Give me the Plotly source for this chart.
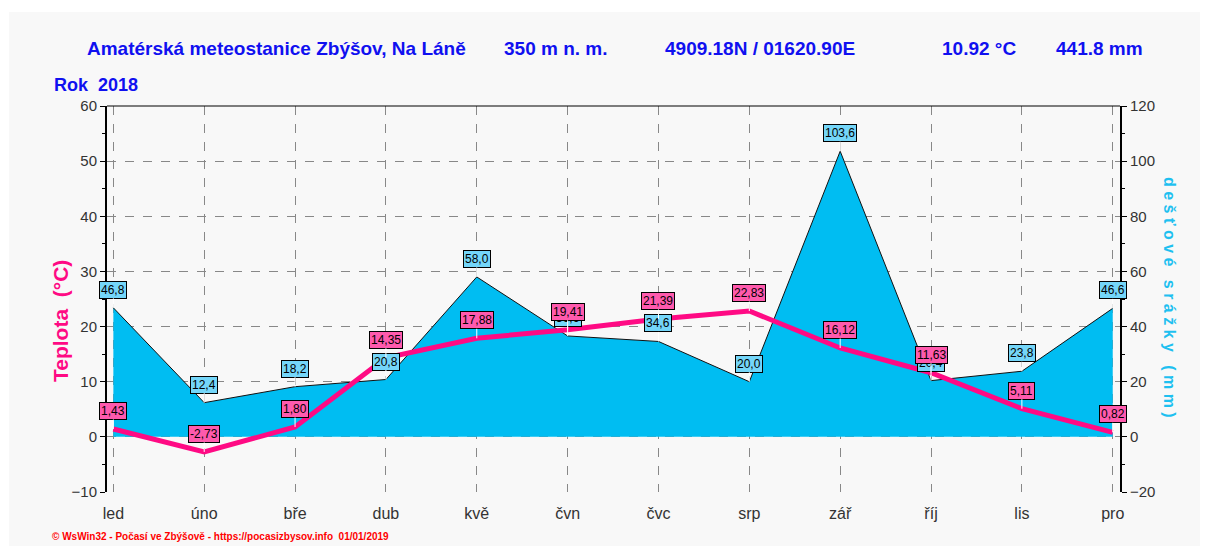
import plotly.graph_objects as go

months = ["led", "úno", "bře", "dub", "kvě", "čvn", "čvc", "srp", "zář", "říj", "lis", "pro"]
temperature = [1.43, -2.73, 1.80, 14.35, 17.88, 19.41, 21.39, 22.83, 16.12, 11.63, 5.11, 0.82]
precipitation = [46.8, 12.4, 18.2, 20.8, 58.0, 36.6, 34.6, 20.0, 103.6, 20.4, 23.8, 46.6]

FONT = "Liberation Sans, Arial, sans-serif"
BLUE_TXT = "#1010f0"
PINK = "#ff0a84"
SKY = "#00bdf2"
BG = "#f8f8f8"

# page layout (page pixels; the page body has an 8px margin)
OFF = 8
W, H = 1209 - OFF, 556 - OFF
PL, PR, PT, PB = 107, 1120, 106, 492  # plot area in page pixels


def px(x):
    return (x - PL) / (PR - PL)


def py(y):
    return (PB - y) / (PB - PT)


xs = list(range(len(months)))

fig = go.Figure()

# precipitation on the base axis (right side), temperature on the overlay (left side)
fig.add_trace(go.Scatter(
    x=xs, y=precipitation, yaxis="y", mode="lines",
    line=dict(color="#111111", width=1),
    fill="tozeroy", fillcolor=SKY, hoverinfo="skip", showlegend=False,
))
fig.add_trace(go.Scatter(
    x=xs, y=temperature, yaxis="y2", mode="lines",
    line=dict(color=PINK, width=5), hoverinfo="skip", showlegend=False,
))


def fmt(v, d):
    return f"{v:.{d}f}".replace(".", ",")


annotations = []
for i, v in enumerate(precipitation):
    annotations.append(dict(
        x=i, y=v, xref="x", yref="y", text=fmt(v, 1),
        showarrow=True, arrowhead=0, arrowwidth=1, arrowcolor="white",
        ax=0, ay=-18, bgcolor="#74d6f9", bordercolor="#000000", borderwidth=1,
        borderpad=1, font=dict(family=FONT, size=12, color="#000000"),
    ))
for i, v in enumerate(temperature):
    annotations.append(dict(
        x=i, y=v, xref="x", yref="y2", text=fmt(v, 2),
        showarrow=True, arrowhead=0, arrowwidth=1, arrowcolor="white",
        ax=0, ay=-18, bgcolor="#ff5aad", bordercolor="#000000", borderwidth=1,
        borderpad=1, font=dict(family=FONT, size=12, color="#000000"),
    ))

header = [
    ("Amatérská meteostanice Zbýšov, Na Láně", 85),
    ("350 m n. m.", 502),
    ("4909.18N / 01620.90E", 663),
    ("10.92 °C", 940),
    ("441.8 mm", 1054),
]
for txt, hx in header:
    annotations.append(dict(
        text=f"<b>{txt}</b>", x=px(hx), y=py(49), xref="paper", yref="paper",
        xanchor="left", yanchor="middle", showarrow=False,
        font=dict(family=FONT, size=19, color=BLUE_TXT),
    ))
annotations.append(dict(
    text="<b>Rok  2018</b>", x=px(52), y=py(85), xref="paper", yref="paper",
    xanchor="left", yanchor="middle", showarrow=False,
    font=dict(family=FONT, size=18, color=BLUE_TXT),
))
annotations.append(dict(
    text="<b>Teplota  (°C)</b>", x=px(60), y=py(321), xref="paper", yref="paper",
    xanchor="center", yanchor="middle", showarrow=False, textangle=-90,
    font=dict(family=FONT, size=21, color=PINK),
))
annotations.append(dict(
    text="<b>d e š ť o v é   s r á ž k y   ( m m )</b>", x=px(1170), y=py(297),
    xref="paper", yref="paper",
    xanchor="center", yanchor="middle", showarrow=False, textangle=90,
    font=dict(family=FONT, size=16, color="#1ec0f0"),
))
annotations.append(dict(
    text="<b>© WsWin32 - Počasí ve Zbýšově - https://pocasizbysov.info  01/01/2019</b>",
    x=px(50), y=py(536), xref="paper", yref="paper",
    xanchor="left", yanchor="middle", showarrow=False,
    font=dict(family=FONT, size=10, color="#ff0000"),
))

shapes = [
    dict(type="rect", xref="paper", yref="paper", x0=px(9), x1=px(1200), y0=py(546), y1=py(12),
         fillcolor=BG, line=dict(width=0), layer="below"),
    dict(type="line", xref="paper", yref="paper", x0=0, x1=1, y0=1, y1=1,
         line=dict(color="#000000", width=1)),
]

fig.update_layout(
    width=W, height=H,
    margin=dict(l=PL - OFF, r=1209 - PR, t=PT - OFF, b=556 - PB, autoexpand=False),
    paper_bgcolor="white", plot_bgcolor=BG,
    font=dict(family=FONT, size=15, color="#333333"),
    showlegend=False,
    annotations=annotations, shapes=shapes,
    xaxis=dict(
        range=[-0.07, 11.08], tickmode="array", tickvals=xs, ticktext=months,
        showgrid=True, gridcolor="#888888", griddash="dash", gridwidth=1,
        zeroline=False, showline=False, ticks="", ticklabelstandoff=10,
        tickfont=dict(size=16, color="#333333"),
        fixedrange=True,
    ),
    yaxis=dict(
        range=[-20, 120], dtick=20, tick0=0, side="right",
        showgrid=True, gridcolor="#888888", griddash="dash", gridwidth=1,
        zeroline=False, showline=True, linecolor="#000000", linewidth=2,
        ticks="outside", ticklen=5, tickcolor="#000000",
        minor=dict(dtick=10, ticks="outside", ticklen=3, tickcolor="#000000", showgrid=False),
        tickfont=dict(size=15, color="#333333"),
    ),
    yaxis2=dict(
        range=[-10, 60], dtick=10, tick0=0, overlaying="y", side="left",
        showgrid=False, zeroline=False, showline=True, linecolor="#000000", linewidth=2,
        ticks="outside", ticklen=5, tickcolor="#000000",
        minor=dict(dtick=5, ticks="outside", ticklen=3, tickcolor="#000000"),
        tickfont=dict(size=15, color="#333333"),
    ),
)

fig.write_html("out.html")
